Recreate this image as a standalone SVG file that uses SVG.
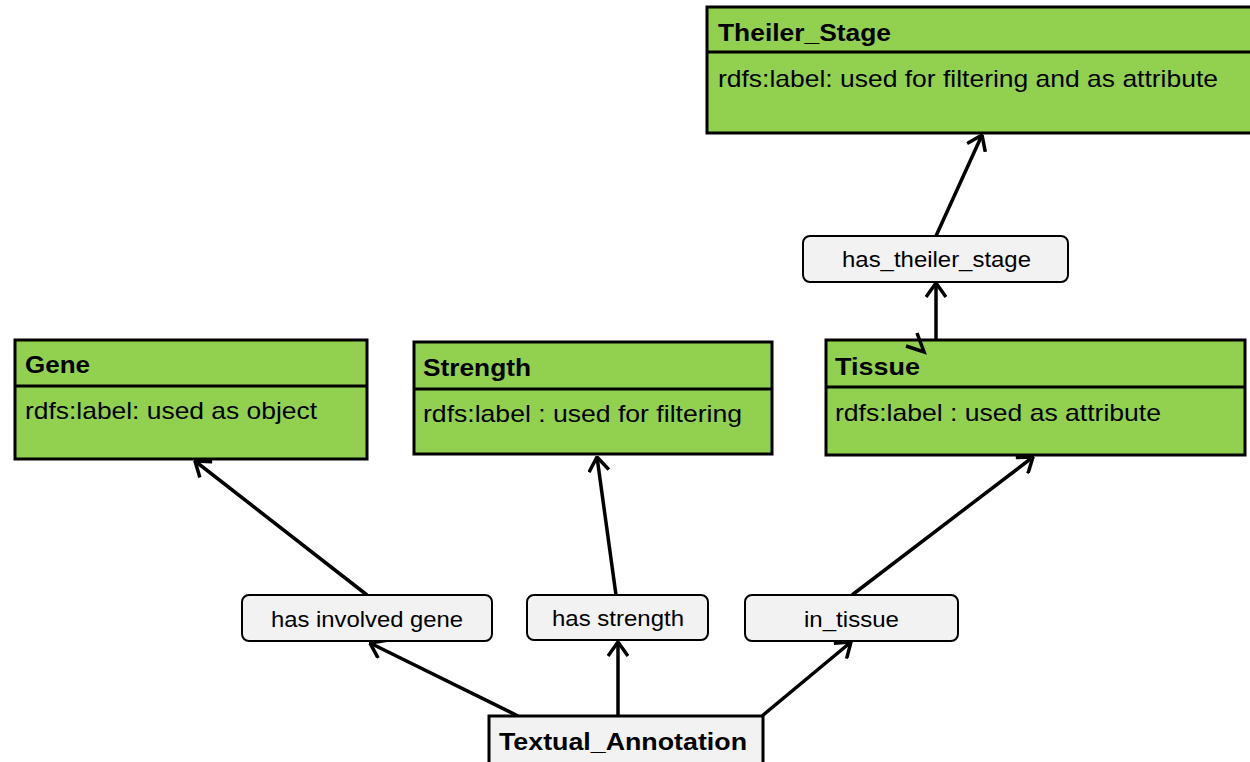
<svg xmlns="http://www.w3.org/2000/svg" width="1250" height="762" viewBox="0 0 1250 762">
<defs>
<style>
.cls{fill:#92d050;stroke:#000;stroke-width:3}
.sep{stroke:#000;stroke-width:3}
.lbl{fill:#f2f2f2;stroke:#000;stroke-width:2}
.ta{fill:#f2f2f2;stroke:#000;stroke-width:3}
.t{font-family:"Liberation Sans",Arial,sans-serif;fill:#000}
.b{font-weight:bold;font-size:24px}
.r{font-size:24px}
.l{font-size:22px}
.c{fill:none;stroke:#000;stroke-width:3.5}
</style>
<marker id="ah" viewBox="0 0 16 22" refX="15" refY="11" markerWidth="16" markerHeight="22" markerUnits="userSpaceOnUse" orient="auto">
<path d="M1,1 L15,11 L1,21" fill="none" stroke="#000" stroke-width="3.5"/>
</marker>
</defs>
<rect width="1250" height="762" fill="#fff"/>
<g id="connectors">
<path class="c" d="M518,716 L370,643" marker-end="url(#ah)"/>
<path class="c" d="M367,595 L195,461" marker-end="url(#ah)"/>
<path class="c" d="M618,716 L618,642" marker-end="url(#ah)"/>
<path class="c" d="M616,595 L597,457" marker-end="url(#ah)"/>
<path class="c" d="M762,716 L851,642" marker-end="url(#ah)"/>
<path class="c" d="M852,595 L1033,457" marker-end="url(#ah)"/>
<path class="c" d="M936,340 L936,283" marker-end="url(#ah)"/>
<path class="c" d="M936,236 L982,135" marker-end="url(#ah)"/>
</g>
<g id="theiler_stage">
<rect class="cls" x="707" y="7" width="560" height="126"/>
<line class="sep" x1="707" y1="52" x2="1250" y2="52"/>
<text class="t b" x="718" y="41" textLength="173" lengthAdjust="spacingAndGlyphs">Theiler_Stage</text>
<text class="t r" x="718" y="87" textLength="500" lengthAdjust="spacingAndGlyphs">rdfs:label: used for filtering and as attribute</text>
</g>
<g id="gene">
<rect class="cls" x="15" y="340" width="352" height="119"/>
<line class="sep" x1="15" y1="386" x2="367" y2="386"/>
<text class="t b" x="25" y="373" textLength="65" lengthAdjust="spacingAndGlyphs">Gene</text>
<text class="t r" x="25" y="419" textLength="292" lengthAdjust="spacingAndGlyphs">rdfs:label: used as object</text>
</g>
<g id="strength">
<rect class="cls" x="414" y="342" width="358" height="112"/>
<line class="sep" x1="414" y1="389" x2="772" y2="389"/>
<text class="t b" x="423" y="376" textLength="108" lengthAdjust="spacingAndGlyphs">Strength</text>
<text class="t r" x="423" y="422" textLength="319" lengthAdjust="spacingAndGlyphs">rdfs:label : used for filtering</text>
</g>
<g id="tissue">
<rect class="cls" x="826" y="340" width="419" height="115"/>
<line class="sep" x1="826" y1="387" x2="1245" y2="387"/>
<text class="t b" x="835" y="375" textLength="85" lengthAdjust="spacingAndGlyphs">Tissue</text>
<text class="t r" x="835" y="421" textLength="326" lengthAdjust="spacingAndGlyphs">rdfs:label : used as attribute</text>
</g>
<g id="textual_annotation">
<rect class="ta" x="489" y="716" width="274" height="60"/>
<text class="t b" x="499" y="750" textLength="248" lengthAdjust="spacingAndGlyphs">Textual_Annotation</text>
</g>
<g id="has_theiler_stage">
<rect class="lbl" x="803" y="236" width="265" height="46" rx="7"/>
<text class="t l" x="842" y="267" textLength="189" lengthAdjust="spacingAndGlyphs">has_theiler_stage</text>
</g>
<g id="has_involved_gene">
<rect class="lbl" x="242" y="595" width="250" height="46" rx="7"/>
<text class="t l" x="271" y="627" textLength="192" lengthAdjust="spacingAndGlyphs">has involved gene</text>
</g>
<g id="has_strength">
<rect class="lbl" x="527" y="595" width="181" height="45" rx="7"/>
<text class="t l" x="552" y="626" textLength="132" lengthAdjust="spacingAndGlyphs">has strength</text>
</g>
<g id="in_tissue">
<rect class="lbl" x="745" y="595" width="213" height="46" rx="7"/>
<text class="t l" x="804" y="627" textLength="95" lengthAdjust="spacingAndGlyphs">in_tissue</text>
</g>
<g id="stray_arrowhead">
<path class="c" d="M917,333 L924,352 L906,346"/>
</g>
</svg>
